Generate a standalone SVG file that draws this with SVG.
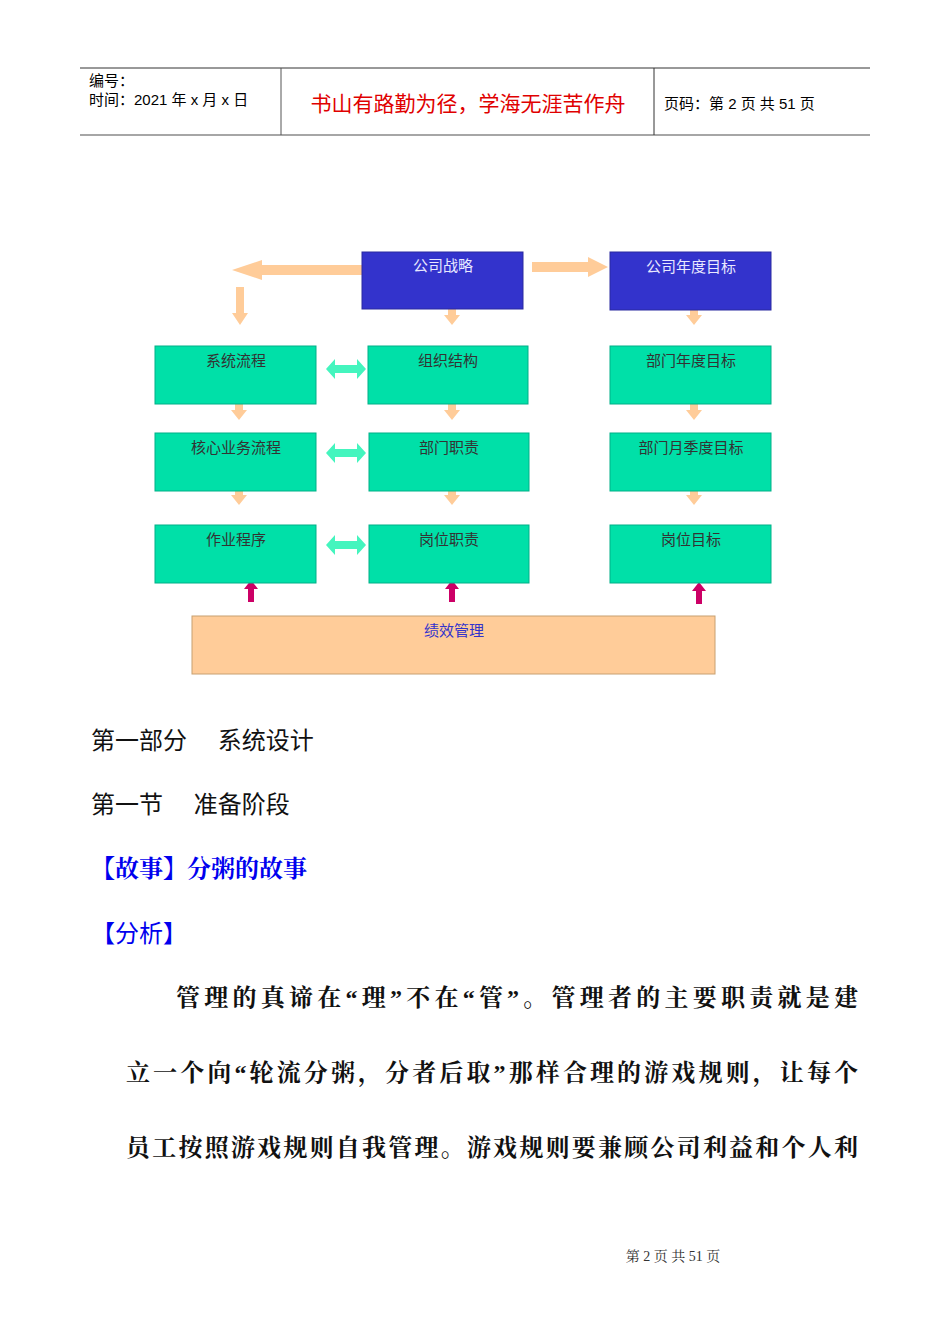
<svg xmlns="http://www.w3.org/2000/svg" width="950" height="1344" viewBox="0 0 950 1344">
<defs>
<style>
.t{font-family:"Liberation Sans","Noto Sans CJK SC",sans-serif}
.s{font-family:"Liberation Serif","Noto Serif CJK SC","Noto Sans CJK SC",serif}
.blue{fill:#3333cc;stroke:#2a2aa0;stroke-width:1}
.green{fill:#00e0a8;stroke:#00b088;stroke-width:1}
.bl{font-size:15px;fill:#e8e8ff;text-anchor:middle}
.gl{font-size:15px;fill:#333;text-anchor:middle}
.peach{fill:#ffcc99}
.mint{fill:#44f5be}
.mag{fill:#cc0066}
</style>
<path id="down" d="M-4,0 H4 V13 H8 L0,23 L-8,13 H-4 Z"/>
<path id="downL" d="M-4,0 H4 V26 H8 L0,38 L-8,26 H-4 Z"/>
<path id="up" d="M-3,22 H3 V9 H7 L0,0 L-7,9 H-3 Z"/>
<path id="dbl" d="M0,0 L9,-10 V-4 H31 V-10 L40,0 L31,10 V4 H9 V10 Z"/>
</defs>
<rect width="950" height="1344" fill="#fff"/>
<g id="header">
<line x1="80" y1="68" x2="870" y2="68" stroke="#333" stroke-width="1"/>
<line x1="80" y1="135" x2="870" y2="135" stroke="#888" stroke-width="1.5"/>
<line x1="281" y1="68" x2="281" y2="135" stroke="#555"/>
<line x1="654" y1="68" x2="654" y2="135" stroke="#333"/>
<text class="t" x="89" y="86" font-size="15">编号：</text>
<text class="t" x="89" y="105" font-size="15">时间：2021 年 x 月 x 日</text>
<text class="t" x="468" y="111" font-size="21" fill="#e00000" text-anchor="middle">书山有路勤为径，学海无涯苦作舟</text>
<text class="t" x="664" y="109" font-size="15">页码：第 2 页  共 51 页</text>
</g>
<g id="connectors">
<path class="peach" d="M362,265 H262 V260 L232,270 L262,280 V275 H362 Z"/>
<path class="peach" d="M532,262 H588 V257 L608,267 L588,277 V272 H532 Z"/>
<use href="#downL" class="peach" x="240" y="287"/>
<use href="#down" class="peach" x="452" y="302"/>
<use href="#down" class="peach" x="694" y="302"/>
<use href="#down" class="peach" x="239" y="397"/>
<use href="#down" class="peach" x="452" y="397"/>
<use href="#down" class="peach" x="694" y="397"/>
<use href="#down" class="peach" x="239" y="482"/>
<use href="#down" class="peach" x="452" y="482"/>
<use href="#down" class="peach" x="694" y="482"/>
<use href="#dbl" class="mint" x="326" y="369"/>
<use href="#dbl" class="mint" x="326" y="453"/>
<use href="#dbl" class="mint" x="326" y="545"/>
<use href="#up" class="mag" x="251" y="580"/>
<use href="#up" class="mag" x="452" y="580"/>
<use href="#up" class="mag" x="699" y="582"/>
</g>
<g id="n1"><rect class="blue" x="362" y="252" width="161" height="57"/><text class="t bl" x="443" y="271">公司战略</text></g>
<g id="n2"><rect class="blue" x="610" y="252" width="161" height="58"/><text class="t bl" x="691" y="272">公司年度目标</text></g>
<g id="n3"><rect class="green" x="155" y="346" width="161" height="58"/><text class="t gl" x="236" y="366">系统流程</text></g>
<g id="n4"><rect class="green" x="368" y="346" width="160" height="58"/><text class="t gl" x="448" y="366">组织结构</text></g>
<g id="n5"><rect class="green" x="610" y="346" width="161" height="58"/><text class="t gl" x="691" y="366">部门年度目标</text></g>
<g id="n6"><rect class="green" x="155" y="433" width="161" height="58"/><text class="t gl" x="236" y="453">核心业务流程</text></g>
<g id="n7"><rect class="green" x="369" y="433" width="160" height="58"/><text class="t gl" x="449" y="453">部门职责</text></g>
<g id="n8"><rect class="green" x="610" y="433" width="161" height="58"/><text class="t gl" x="691" y="453">部门月季度目标</text></g>
<g id="n9"><rect class="green" x="155" y="525" width="161" height="58"/><text class="t gl" x="236" y="545">作业程序</text></g>
<g id="n10"><rect class="green" x="369" y="525" width="160" height="58"/><text class="t gl" x="449" y="545">岗位职责</text></g>
<g id="n11"><rect class="green" x="610" y="525" width="161" height="58"/><text class="t gl" x="691" y="545">岗位目标</text></g>
<g id="n12"><rect x="192" y="616" width="523" height="58" fill="#ffcc99" stroke="#c8a070"/><text class="t" x="454" y="636" font-size="15" fill="#3333cc" text-anchor="middle">绩效管理</text></g>
<g id="body">
<text class="t" x="91" y="749" font-size="24" fill="#111">第一部分　 系统设计</text>
<text class="t" x="91" y="813" font-size="24" fill="#111">第一节　 准备阶段</text>
<text class="s" x="91" y="877" font-size="24" fill="#0000ee" font-weight="bold">【故事】分粥的故事</text>
<text class="t" x="91" y="942" font-size="24" fill="#0000ee">【分析】</text>
<text class="s" x="176" y="1006" font-size="24" fill="#111" font-weight="bold" textLength="682" lengthAdjust="spacing">管理的真谛在“理”不在“管”。管理者的主要职责就是建</text>
<text class="s" x="126" y="1081" font-size="24" fill="#111" font-weight="bold" textLength="732" lengthAdjust="spacing">立一个向“轮流分粥，分者后取”那样合理的游戏规则，让每个</text>
<text class="s" x="126" y="1156" font-size="24" fill="#111" font-weight="bold" textLength="732" lengthAdjust="spacing">员工按照游戏规则自我管理。游戏规则要兼顾公司利益和个人利</text>
<text class="s" x="673" y="1261" font-size="14" fill="#333" text-anchor="middle">第 2 页 共 51 页</text>
</g>
</svg>
